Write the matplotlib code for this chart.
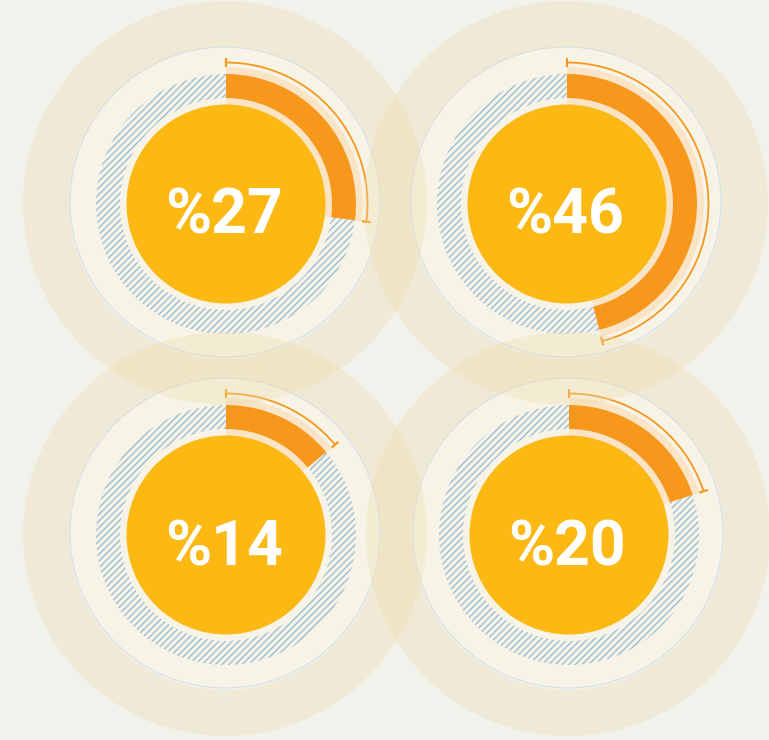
import matplotlib.pyplot as plt
from matplotlib.patches import Circle, Wedge, Arc
import numpy as np

# values shown in the four gauges (percent)
values = [27, 46, 14, 20]
labels = ["%27", "%46", "%14", "%20"]

# gauge centres in pixel coordinates (image y grows downward)
centers_x = [226, 567, 226, 569]
centers_y = [204, 204, 535, 535]

W, H = 769, 740
bg = "#f2f2ec"
halo_col = "#eedbac"
light = "#f7f4e7"
peach = "#f9e4c5"
orange = "#f7981d"
yellow = "#fcb813"
hatch_col = "#a3c2d8"

plt.rcParams["hatch.linewidth"] = 1.1

fig = plt.figure(figsize=(W / 100, H / 100), dpi=100, facecolor=bg)
ax = fig.add_axes([0, 0, 1, 1])
ax.set_xlim(0, W)
ax.set_ylim(0, H)
ax.set_aspect("equal")
ax.axis("off")

for v, lab, cx, cy in zip(values, labels, centers_x, centers_y):
    y = H - cy
    start = 90 - 360 * v / 100

    # outer light disc
    ax.add_patch(Circle((cx - 1, y + 2), 155, facecolor=light, edgecolor="#d3e0e9", lw=0.8, zorder=1))

    # hatched track
    ax.add_patch(Wedge((cx, y), 130, 0, 360, width=24, facecolor=light,
                       edgecolor=hatch_col, hatch="/////", lw=0, zorder=2))

    # highlighted sector behind the value
    ax.add_patch(Wedge((cx, y), 137, start, 90, width=40, facecolor=peach, lw=0, zorder=3))
    ax.add_patch(Wedge((cx, y), 130, start, 90, width=24, facecolor=orange, lw=0, zorder=4))

    # thin bracket arc with end ticks
    ax.add_patch(Arc((cx, y), 283, 283, theta1=start, theta2=90, color=orange, lw=1.3, zorder=5))
    for ang in (start, 90):
        a = np.radians(ang)
        ax.plot([cx + 137 * np.cos(a), cx + 146 * np.cos(a)],
                [y + 137 * np.sin(a), y + 146 * np.sin(a)],
                color=orange, lw=1.6, zorder=5, solid_capstyle="butt")

    # yellow centre
    ax.add_patch(Circle((cx, y), 99.5, facecolor=yellow, lw=0, zorder=6))
    ax.text(cx - 2, y - 30, lab, ha="center", va="baseline", color="white",
            fontsize=45, fontweight="bold", family="Roboto", zorder=7)

# translucent halos on top
for cx, cy in zip(centers_x, centers_y):
    ax.add_patch(Wedge((cx - 1, H - cy + 1), 202, 0, 360, width=46,
                       facecolor=halo_col, alpha=0.35, lw=0, zorder=8))

fig.savefig("out.png", dpi=100, facecolor=bg)
